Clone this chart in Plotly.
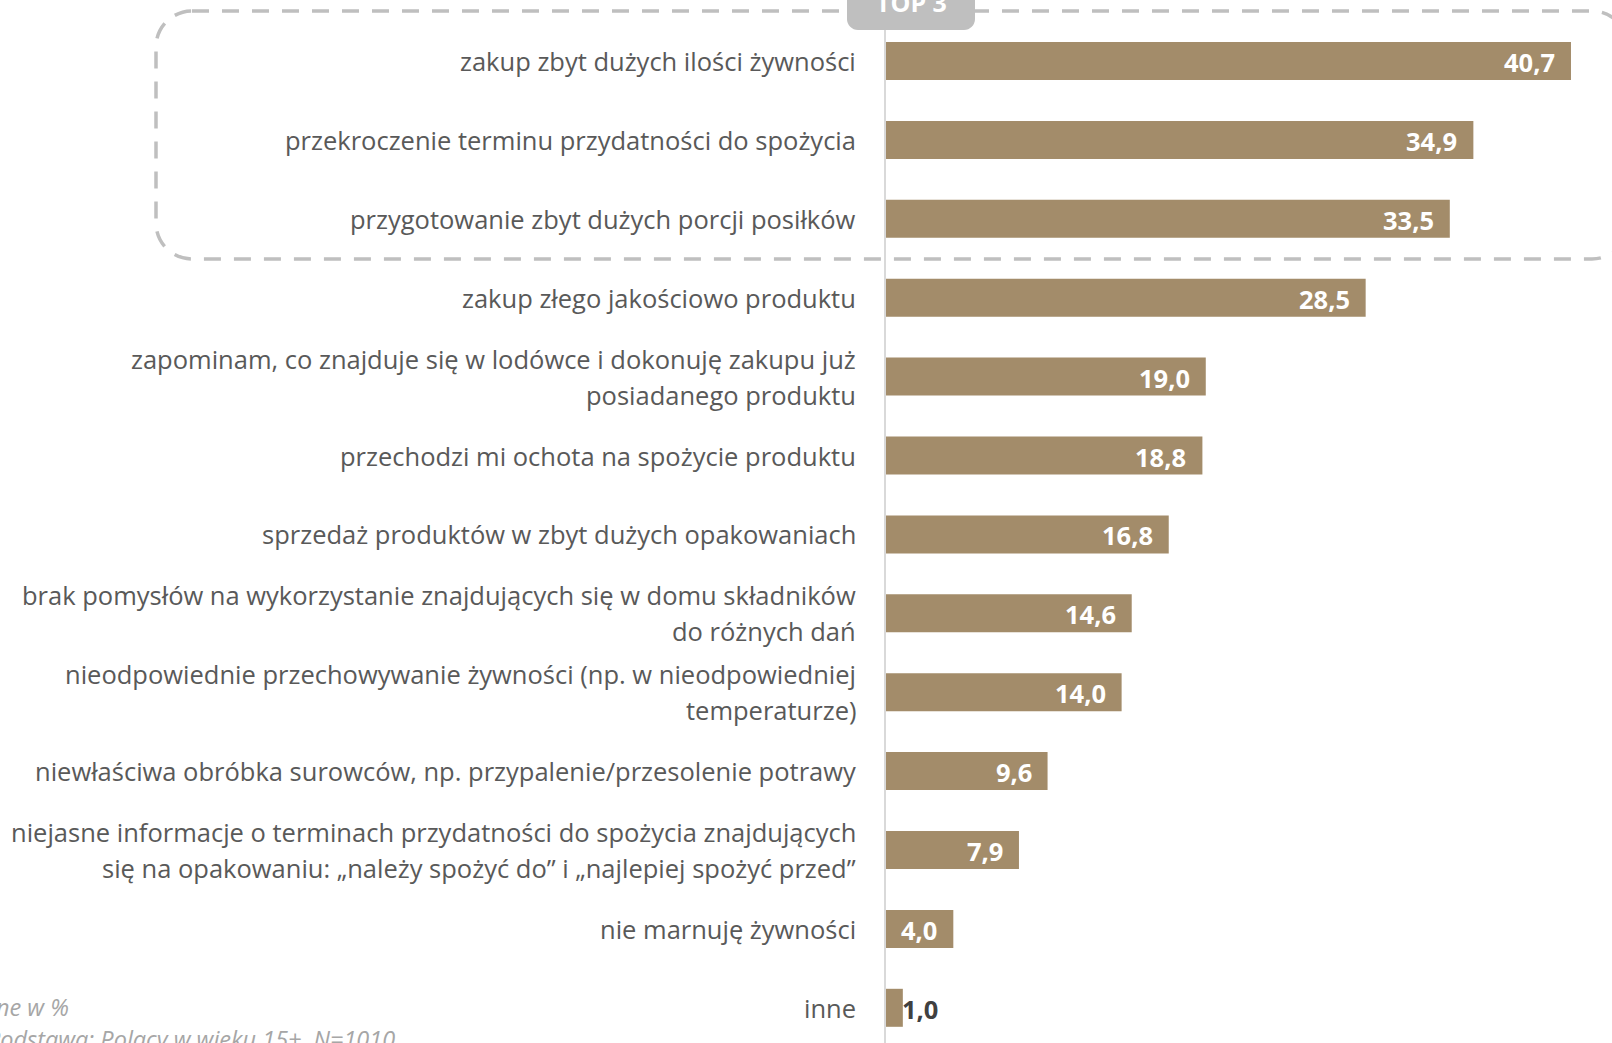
import plotly.graph_objects as go

categories = [
    "zakup zbyt dużych ilości żywności",
    "przekroczenie terminu przydatności do spożycia",
    "przygotowanie zbyt dużych porcji posiłków",
    "zakup złego jakościowo produktu",
    "zapominam, co znajduje się w lodówce i dokonuję zakupu już\nposiadanego produktu",
    "przechodzi mi ochota na spożycie produktu",
    "sprzedaż produktów w zbyt dużych opakowaniach",
    "brak pomysłów na wykorzystanie znajdujących się w domu składników\ndo różnych dań",
    "nieodpowiednie przechowywanie żywności (np. w nieodpowiedniej\ntemperaturze)",
    "niewłaściwa obróbka surowców, np. przypalenie/przesolenie potrawy",
    "niejasne informacje o terminach przydatności do spożycia znajdujących\nsię na opakowaniu: „należy spożyć do” i „najlepiej spożyć przed”",
    "nie marnuję żywności",
    "inne",
]
values = [40.7, 34.9, 33.5, 28.5, 19.0, 18.8, 16.8, 14.6, 14.0, 9.6, 7.9, 4.0, 1.0]
note_lines = ["Dane w %", "Podstawa: Polacy w wieku 15+, N=1010"]
top_label = "TOP 3"

W, H = 1612, 1043
L = 886
PX_PER_UNIT = 16.83
ROW = 78.9
FIRST_CENTER = 61
BAR_COLOR = "#A38C6A"
TEXT_COLOR = "#595959"
FONT = "Open Sans"
LABEL_SIZE = 25.5
VALUE_SIZE = 25.5

fig = go.Figure()
fig.add_trace(go.Bar(
    y=categories, x=values, orientation="h",
    marker=dict(color=BAR_COLOR, line=dict(width=0)),
    hoverinfo="skip",
))

def px(xp):
    return (xp - L) / (W - L)

def py(yp):
    return 1 - yp / H

annotations = []
for cat in categories:
    lines = cat.split("\n")
    n = len(lines)
    for i, ln in enumerate(lines):
        off = (i - (n - 1) / 2) * 36
        annotations.append(dict(
            x=0, y=cat, xref="x", yref="y", xanchor="right", yanchor="middle",
            xshift=-28, yshift=-off, text=ln, showarrow=False,
            font=dict(family=FONT, size=LABEL_SIZE, color=TEXT_COLOR),
        ))
for cat, v in zip(categories, values):
    txt = f"{v:.1f}".replace(".", ",")
    if v >= 3:
        annotations.append(dict(
            x=v, y=cat, xref="x", yref="y", xanchor="right", yanchor="middle",
            xshift=-14, yshift=-1, text=f"<b>{txt}</b>", showarrow=False,
            font=dict(family=FONT, size=VALUE_SIZE, color="white"),
        ))
    else:
        annotations.append(dict(
            x=v, y=cat, xref="x", yref="y", xanchor="left", yanchor="middle",
            xshift=-3, yshift=-1, text=f"<b>{txt}</b>", showarrow=False,
            font=dict(family=FONT, size=VALUE_SIZE, color="#404040"),
        ))
annotations.append(dict(x=px(71), y=py(1007), xref="paper", yref="paper",
                        xanchor="right", yanchor="middle", text=f"<i>{note_lines[0]}</i>",
                        showarrow=False, font=dict(family=FONT, size=23.5, color="#A6A6A6")))
annotations.append(dict(x=px(397), y=py(1039), xref="paper", yref="paper",
                        xanchor="right", yanchor="middle", text=f"<i>{note_lines[1]}</i>",
                        showarrow=False, font=dict(family=FONT, size=23.5, color="#A6A6A6")))

def rounded_path(x0, y0, x1, y1, r, rb=None):
    rb = r if rb is None else rb
    k = 0.5523
    def P(x, y):
        return f"{px(x):.5f},{py(y):.5f}"
    d = f"M {P(x0 + r, y0)} L {P(x1 - r, y0)} "
    d += f"C {P(x1 - r + k*r, y0)} {P(x1, y0 + r - k*r)} {P(x1, y0 + r)} "
    d += f"L {P(x1, y1 - rb)} "
    d += f"C {P(x1, y1 - rb + k*rb)} {P(x1 - rb + k*rb, y1)} {P(x1 - rb, y1)} "
    d += f"L {P(x0 + rb, y1)} "
    d += f"C {P(x0 + rb - k*rb, y1)} {P(x0, y1 - rb + k*rb)} {P(x0, y1 - rb)} "
    d += f"L {P(x0, y0 + r)} "
    d += f"C {P(x0, y0 + r - k*r)} {P(x0 + r - k*r, y0)} {P(x0 + r, y0)} Z"
    return d

shapes = [
    dict(type="path", xref="paper", yref="paper",
         path=rounded_path(156, 11, 1628, 259, 36),
         line=dict(color="#BFBFBF", width=3.5, dash="17px,13px"),
         fillcolor="rgba(0,0,0,0)", layer="above"),
    dict(type="path", xref="paper", yref="paper",
         path=rounded_path(847, -20, 975, 30, 1, 11),
         line=dict(width=0), fillcolor="#BFBFBF", layer="above"),
]
annotations.append(dict(x=px(911), y=py(2), xref="paper", yref="paper",
                        xanchor="center", yanchor="middle", text=f"<b>{top_label}</b>",
                        showarrow=False, font=dict(family=FONT, size=25, color="white")))

fig.update_layout(
    width=W, height=H,
    margin=dict(l=L, r=0, t=0, b=0, pad=0),
    paper_bgcolor="white", plot_bgcolor="white",
    bargap=1 - 38 / ROW,
    showlegend=False,
    xaxis=dict(range=[0, (W - L) / PX_PER_UNIT], visible=False, fixedrange=True),
    yaxis=dict(
        type="category",
        range=[(H - FIRST_CENTER) / ROW, -FIRST_CENTER / ROW],
        showticklabels=False, ticks="", showgrid=False, zeroline=False,
        showline=True, linecolor="#D9D9D9", linewidth=2, fixedrange=True,
    ),
    shapes=shapes,
    annotations=annotations,
    font=dict(family=FONT),
)

fig.write_html("out.html", config={"displayModeBar": False},
               post_script="document.body.style.margin='0';document.body.style.overflow='hidden';")
